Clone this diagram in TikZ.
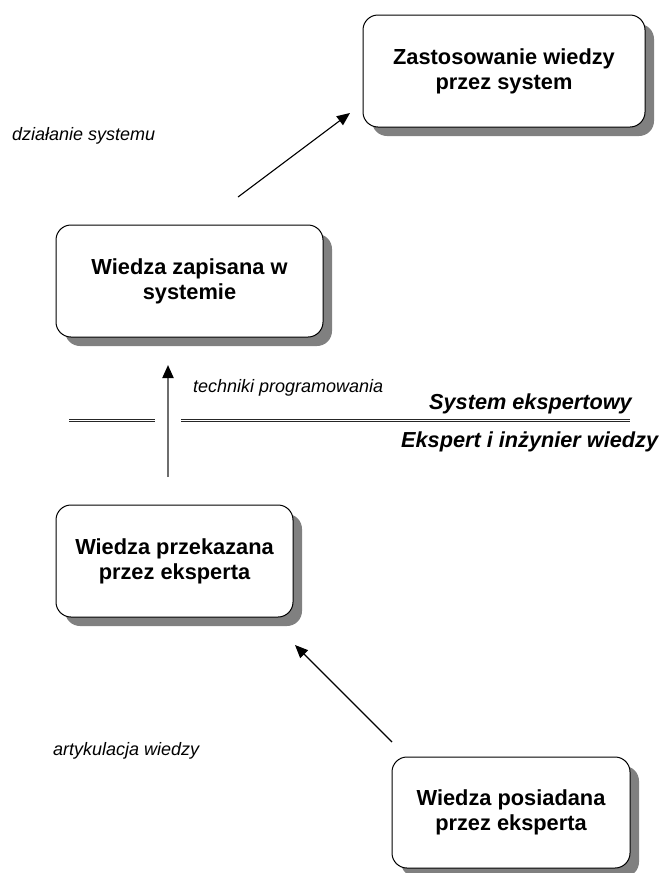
\documentclass[tikz,border=0pt]{standalone}
\usepackage{fontspec}
\setmainfont{Liberation Sans}
\usetikzlibrary{arrows.meta,shadows}
\definecolor{shadowgray}{RGB}{128,128,128}
\definecolor{linegray}{RGB}{110,110,110}
\begin{document}
\begin{tikzpicture}[x=1pt,y=1pt,
  box/.style={draw=black, line width=1pt, fill=white, rounded corners=15pt, inner sep=0pt, align=center,
    font=\fontsize{21.8pt}{25pt}\selectfont\bfseries,
    drop shadow={shadow xshift=9pt, shadow yshift=-9pt, fill=shadowgray, opacity=1}},
  lab/.style={inner sep=0pt, font=\fontsize{18pt}{21pt}\selectfont\itshape},
  side/.style={inner sep=0pt, font=\fontsize{21.7pt}{25pt}\selectfont\bfseries\itshape},
  arr/.style={-{Triangle[length=13pt,width=11pt,color=black]}, line width=1.1pt},
  sep/.style={double, double distance=1.8pt, line width=0.9pt, draw=black!85}
]
\useasboundingbox (0,0) rectangle (664,-873);

\node[box, minimum width=282pt, minimum height=112pt] (b1) at (504,-71) {Zastosowanie wiedzy\\przez system};
\node[box, minimum width=267pt, minimum height=112pt] (b2) at (189.5,-281) {Wiedza zapisana w\\systemie};
\node[box, minimum width=237pt, minimum height=112pt] (b3) at (174.5,-561) {Wiedza przekazana\\przez eksperta};
\node[box, minimum width=238pt, minimum height=111pt] (b4) at (511,-812.5) {Wiedza posiadana\\przez eksperta};

% arrows
\coordinate (a1s) at (238,-197);
\coordinate (a1e) at (350,-113);
\draw[arr] (a1s) -- (a1e);

\coordinate (a2s) at (168,-477);
\coordinate (a2e) at (168,-365);
\draw[arr, draw=linegray, line width=2pt] (a2s) -- (a2e);

\coordinate (a3s) at (392,-742);
\coordinate (a3e) at (295,-645);
\draw[arr] (a3s) -- (a3e);

% separator
\coordinate (sl1) at (69,-420.5);
\coordinate (sl2) at (155,-420.5);
\coordinate (sr1) at (181,-420.5);
\coordinate (sr2) at (630,-420.5);
\draw[sep] (sl1) -- (sl2);
\draw[sep] (sr1) -- (sr2);

% labels
\node[lab, anchor=base west] (l1) at (12,-140) {działanie systemu};
\node[lab, anchor=base west] (l2) at (193,-392) {techniki programowania};
\node[lab, anchor=base west] (l3) at (53,-755) {artykulacja wiedzy};
\node[side, anchor=base east] (s1) at (632,-409) {System ekspertowy};
\node[side, anchor=base west] (s2) at (401,-447) {Ekspert i inżynier wiedzy};
\end{tikzpicture}
\end{document}
